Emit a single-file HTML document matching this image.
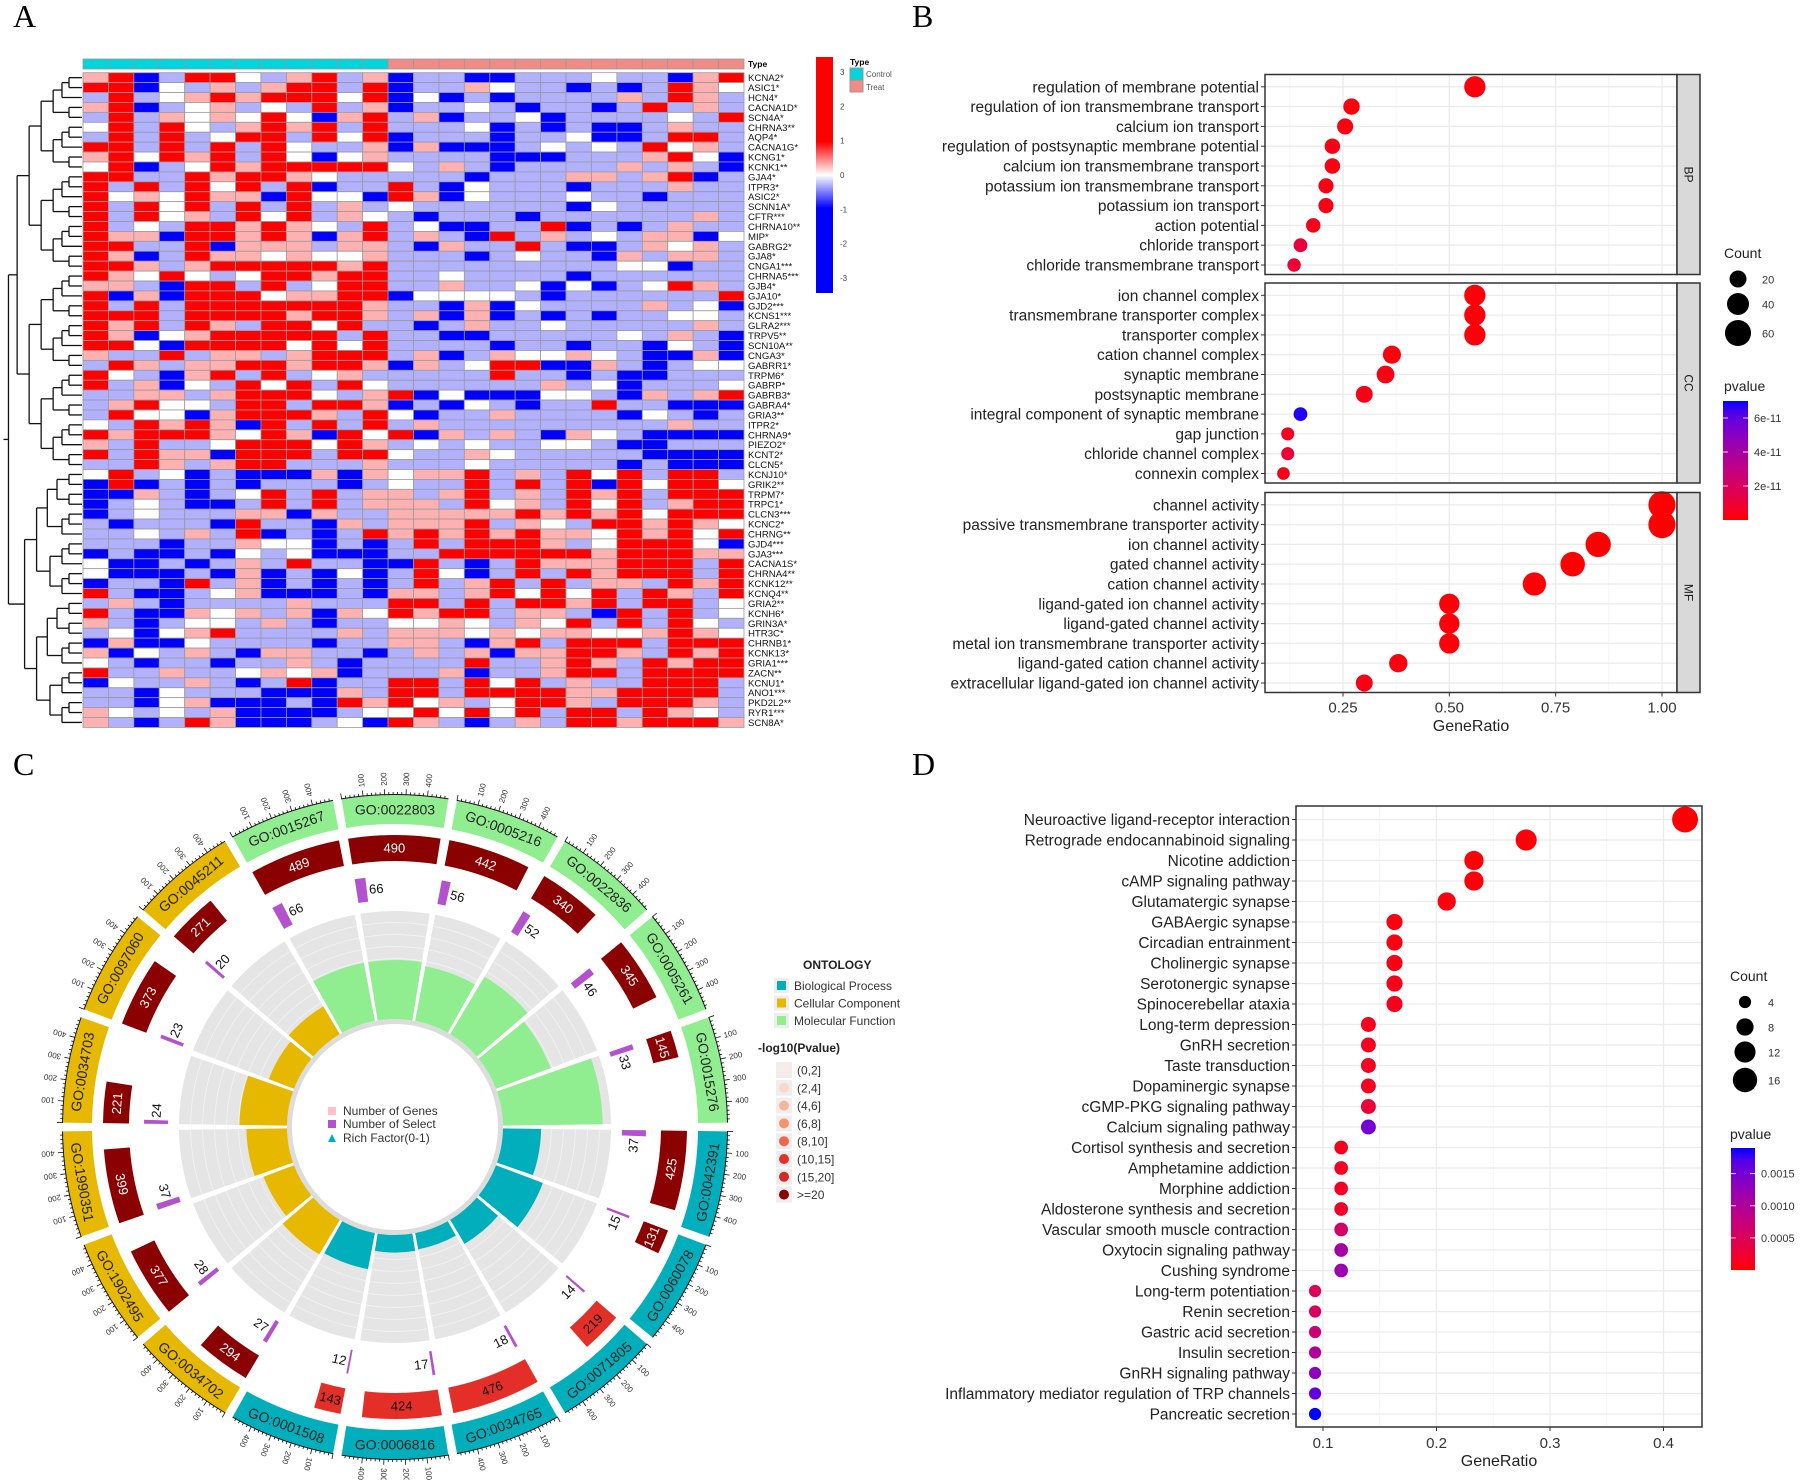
<!DOCTYPE html>
<html><head><meta charset="utf-8">
<style>
html,body{margin:0;padding:0;background:#fff;}
svg{display:block;font-family:"Liberation Sans",Arial,sans-serif;}
</style></head>
<body>
<svg id="fig" width="1800" height="1480" viewBox="0 0 1800 1480" xmlns="http://www.w3.org/2000/svg">
<rect x="0" y="0" width="1800" height="1480" fill="#fff"/>
<text x="13" y="27" font-family="Liberation Serif,serif" font-size="32">A</text>
<text x="912" y="27" font-family="Liberation Serif,serif" font-size="32">B</text>
<text x="13" y="775" font-family="Liberation Serif,serif" font-size="32">C</text>
<text x="912" y="775" font-family="Liberation Serif,serif" font-size="32">D</text>
<g id="pA"></g>
<g id="pB"></g>
<g id="pC"></g>
<g id="pD"></g>
</svg>
<script>
// ---------- Panel A data ----------
const heatGenes = ["KCNA2*","ASIC1*","HCN4*","CACNA1D*","SCN4A*","CHRNA3**","AQP4*","CACNA1G*","KCNG1*","KCNK1**","GJA4*","ITPR3*","ASIC2*","SCNN1A*","CFTR***","CHRNA10**","MIP*","GABRG2*","GJA8*","CNGA1***","CHRNA5***","GJB4*","GJA10*","GJD2***","KCNS1***","GLRA2***","TRPV5**","SCN10A**","CNGA3*","GABRR1*","TRPM6*","GABRP*","GABRB3*","GABRA4*","GRIA3**","ITPR2*","CHRNA9*","PIEZO2*","KCNT2*","CLCN5*","KCNJ10*","GRIK2**","TRPM7*","TRPC1*","CLCN3***","KCNC2*","CHRNG**","GJD4***","GJA3***","CACNA1S*","CHRNA4**","KCNK12**","KCNQ4**","GRIA2**","KCNH6*","GRIN3A*","HTR3C*","CHRNB1*","KCNK13*","GRIA1***","ZACN**","KCNU1*","ANO1***","PKD2L2**","RYR1***","SCN8A*"];
const heatTypes = ["Control","Control","Control","Control","Control","Control","Control","Control","Control","Control","Control","Control","Treat","Treat","Treat","Treat","Treat","Treat","Treat","Treat","Treat","Treat","Treat","Treat","Treat","Treat"];
const heatRows = [
"rRBbRRwbrRbrBbbBBbbbwbbBrR","RRBwbrbrRRbRBbbrwbbBbBbRrw","bRbwrRrRRRwRBwBbBbbbbrbRrb","rRBbwrbwbRbrBbbwbBbbBbRbrb",
"bRbrwrwRwBrRbrBbbwBbbbbwbR","wRbRwbrRrRbRbbbwBbBbBBbrbb","bRbRbwRRbRwRBbbbBbbwBBbRRb","RRbRbRbRwbbrBrBBBbwbwbRwrb",
"rRwRrRbRwBwrbbbbBBBbbbrRwB","wRBbwRrRRRRRwbrbBbbbbrbrbB","RRbbRrRRrwbbbbbBbbbrrbrRBb","RbRbRwRbRBbbRbBwbbbBbbbrbb",
"RwrwRrrBRwwBRrBwbbbwbbBbbb","RbRwRbRbRbrbwbbbbbbBwbbbbb","RbRwrbRwRbrwbBbbbBbbbbbbrb","RbwbRRrRrwbRbwBBbbRBbBbrbb",
"RrrBRRrRrBrRbrbBRbrbwbrrBw","RRbbRBrrrbrrbBrbbRbBBbrwrb","RrBbRrrwrwwrbbbBbwbbBrbrrb","RRrbrRRRRRrRbbbbbbbbbwwBbb",
"RrwRwbwRRrRRbbwbbbbBbbbbbb","rrbBRRbRbwRRbbrbbwBwBbwRrb","RBrBRRRwrrRRBwwwwbBbbbbbbR","RbRbRRRRRRRrbbBrBwbbbbrbwB",
"RRRbRRRRrRRrbrBrBbBbBbbwwb","RrRbRrbRRwRbbBbrbbwbbbbbrb","RrBwrRRRRRbRbbBBbbbbbwbrbB","RRwBRRRRwRwRbbbbBbbBbbBwbB",
"rbbRbrrbrRRRbrBbrwwrwbBBrB","bRrbrrRRrRRrBrbwRRBBrbBbww","RwbBrRbRbwrbbbbbRbbBbBBbbb","RbrBwbRwRbRwbbbbbbrbwBbbbw",
"bbrrbrRRRwbrRBwBBBwwbBrbrR","brRwwbRRbRRrBbBwbBbbRbbBBB","bRwwBrRRRrbRwBbbrbbbbBwbBb","wbRrRrBRbRbRbrbbbbbbbbbrbb",
"RrRRRrwRrBRwRBrbrbBrwbBBBB","rbRbbwRRRwRrbwbwbbwwbBBbbb","RbRrrBRRRbRRwbbrwbbbbbBBBB","bbRrbrRRbbbrbbbwbbbbbBbBBB",
"wRbwBbBBBrBrwrrRbrbRwRbRRb","BRBbBbBbbbBbwbbRbRbRBRwRRw","BBrbBbwRbRbrrbrRbrbRrRbRRR","BbwbBBbRbRbrrrbRwrbRwRbrRR",
"BbwbbbrrBrbbrrrrrRrRrRwRRR","bBbbbBRbbBrbrrrRbrwbRRrRrw","bbwbrbRBbBbRrRrRrRrrwRrRwR","bbbBbbrwwBbBbRbRRRrbwRRRwB",
"BbBBbBwbwBBBbbRRRRRRrRRRrr","wBBbBbrbRbbBBRbBbRrrrRRRbR","wBBBbBrBbBwBbRwBbRbRrRRRbR","BbbBRbrBbBbBbRbrRbRbrrbRrR",
"RbBBbwrBBBbBrrbrRwRwRbRrbR","brbBbbbbrbbbRRbRbRRrRbRRbw","RbBBrwrbrBrwRrRRbrrbBRbRbw","rbBbwwbrbBbbwwrwbrwRbRbRwb",
"bwBwrRbbbbrbrrrwrwrrwwrRrw","BrBBwbbbbBbbrrbBrRbRRRbRRR","rBwbrbBrrbbBbrbrBrrRRrbRrR","wbBbbBbbrbBbbbbRbbrRrbRrRR",
"RbbrbbwrwrBbbbrBbbrRRbRRRR","BwbbrbBbRBbbRRbRwRbrbbRRRb","bbBwbbbBBBrbRRbRRRRrrRRRRb","bbBwrBBBbBRrRwrbwRRrbRRRrb",
"rwbwbrBBBBbwwRwRwRbRRbRrwb","rbBbRrBBBbwBRrbBbrbRRrRRRr"
];
const heatLevels = {B:-2, b:-0.4, w:0, r:0.4, R:2};
const heatTicks = [3,2,1,0,-1,-2,-3];

// ---------- Panel B data ----------
const goBPLabels = ["regulation of membrane potential","regulation of ion transmembrane transport","calcium ion transport","regulation of postsynaptic membrane potential","calcium ion transmembrane transport","potassium ion transmembrane transport","potassium ion transport","action potential","chloride transport","chloride transmembrane transport"];
const goBPRatio = [0.56,0.27,0.255,0.225,0.225,0.21,0.21,0.18,0.15,0.135];
const goBPCount = [37,18,17,15,15,14,14,12,10,9];
const goBPP = [0.1e-11,0.2e-11,0.2e-11,0.3e-11,0.3e-11,0.3e-11,0.3e-11,0.4e-11,1.2e-11,1.0e-11];
const goCCLabels = ["ion channel complex","transmembrane transporter complex","transporter complex","cation channel complex","synaptic membrane","postsynaptic membrane","integral component of synaptic membrane","gap junction","chloride channel complex","connexin complex"];
const goCCRatio = [0.56,0.56,0.56,0.365,0.35,0.30,0.15,0.12,0.12,0.11];
const goCCCount = [37,37,37,24,23,20,10,8,8,7];
const goCCP = [0.1e-11,0.1e-11,0.1e-11,0.2e-11,0.3e-11,0.3e-11,6.9e-11,0.5e-11,1.0e-11,0.4e-11];
const goMFLabels = ["channel activity","passive transmembrane transporter activity","ion channel activity","gated channel activity","cation channel activity","ligand-gated ion channel activity","ligand-gated channel activity","metal ion transmembrane transporter activity","ligand-gated cation channel activity","extracellular ligand-gated ion channel activity"];
const goMFRatio = [1.0,1.0,0.85,0.79,0.70,0.50,0.50,0.50,0.38,0.30];
const goMFCount = [66,66,56,52,46,33,33,33,25,20];
const goMFP = [0.01e-11,0.01e-11,0.01e-11,0.02e-11,0.05e-11,0.1e-11,0.1e-11,0.1e-11,0.2e-11,0.3e-11];
const goFacets = ["BP","CC","MF"];
const goXTicks = [0.25,0.50,0.75,1.00];
const goCountLegend = [20,40,60];
const goPTicks = [2e-11,4e-11,6e-11];
const goPTickLabels = ["2e-11","4e-11","6e-11"];

// ---------- Panel C data ----------
const circIds = ["GO:0022803","GO:0005216","GO:0022836","GO:0005261","GO:0015276","GO:0042391","GO:0060078","GO:0071805","GO:0034765","GO:0006816","GO:0001508","GO:0034702","GO:1902495","GO:1990351","GO:0034703","GO:0097060","GO:0045211","GO:0015267"];
const circOnt = ["MF","MF","MF","MF","MF","BP","BP","BP","BP","BP","BP","CC","CC","CC","CC","CC","CC","MF"];
const circGenes = [490,442,340,345,145,425,131,219,476,424,143,294,377,399,221,373,271,489];
const circSelect = [66,56,52,46,33,37,15,14,18,17,12,27,28,37,24,23,20,66];
const circPLevel = [7,7,7,7,7,7,7,5,5,5,5,7,7,7,7,7,7,7];
const circAxisTicks = [100,200,300,400];
const circPLegend = ["(0,2]","(2,4]","(4,6]","(6,8]","(8,10]","(10,15]","(15,20]",">=20"];

// ---------- Panel D data ----------
const keggLabels = ["Neuroactive ligand-receptor interaction","Retrograde endocannabinoid signaling","Nicotine addiction","cAMP signaling pathway","Glutamatergic synapse","GABAergic synapse","Circadian entrainment","Cholinergic synapse","Serotonergic synapse","Spinocerebellar ataxia","Long-term depression","GnRH secretion","Taste transduction","Dopaminergic synapse","cGMP-PKG signaling pathway","Calcium signaling pathway","Cortisol synthesis and secretion","Amphetamine addiction","Morphine addiction","Aldosterone synthesis and secretion","Vascular smooth muscle contraction","Oxytocin signaling pathway","Cushing syndrome","Long-term potentiation","Renin secretion","Gastric acid secretion","Insulin secretion","GnRH signaling pathway","Inflammatory mediator regulation of TRP channels","Pancreatic secretion"];
const keggCount = [18,12,10,10,9,7,7,7,7,7,6,6,6,6,6,6,5,5,5,5,5,5,5,4,4,4,4,4,4,4];
const keggRatio = [0.419,0.279,0.233,0.233,0.209,0.163,0.163,0.163,0.163,0.163,0.140,0.140,0.140,0.140,0.140,0.140,0.116,0.116,0.116,0.116,0.116,0.116,0.116,0.093,0.093,0.093,0.093,0.093,0.093,0.093];
const keggP = [0.00001,0.00002,0.00003,0.00004,0.00005,0.00006,0.00007,0.00008,0.0001,0.00012,0.00013,0.00014,0.00015,0.00016,0.00028,0.0015,0.00012,0.00015,0.00017,0.0002,0.0006,0.0011,0.0012,0.0005,0.00055,0.0007,0.001,0.0013,0.0016,0.0019];
const keggXTicks = [0.1,0.2,0.3,0.4];
const keggCountLegend = [4,8,12,16];
const keggPTicks = [0.0005,0.0010,0.0015];
const keggPTickLabels = ["0.0005","0.0010","0.0015"];

// ---------- helpers ----------
const NS = "http://www.w3.org/2000/svg";
function add(parent, tag, attrs, name) {
  const el = document.createElementNS(NS, tag);
  for (const k in attrs) el.setAttribute(k, attrs[k]);
  
  
  parent.appendChild(el);
  return el;
}
function txt(parent, s, attrs, name) { const el = add(parent, 'text', attrs, name); el.textContent = s; return el; }
function lerp(a,b,t){return Math.round(a+(b-a)*t);}
function redBlue(t){ t=Math.max(0,Math.min(1,t)); return `rgb(${Math.round(255*Math.sqrt(1-t))},0,${Math.round(255*Math.pow(t,0.8))})`; }
function gradStops(lg){
  for(let i=0;i<=10;i++){ const t=1-i/10; add(lg,'stop',{offset:i/10,'stop-color':redBlue(t)},'gradient-stop'); }
}

// ---------- Panel A ----------
(function(){
  const g = document.getElementById('pA');
  const x0=83, x1=744, y0=72.7, rh=9.92, nC=heatTypes.length, cw=(x1-x0)/nC;
  function heatColor(v){ const t=Math.max(-1,Math.min(1,v/1.3));
    if(t>=0) return `rgb(255,${lerp(255,0,t)},${lerp(255,0,t)})`;
    return `rgb(${lerp(255,0,-t)},${lerp(255,0,-t)},255)`; }
  heatTypes.forEach((tp,j)=>{
    add(g,'rect',{x:x0+j*cw,y:59,width:cw,height:10,fill:tp==='Control'?'#00D5DB':'#F08C86',stroke:'#999','stroke-width':0.8},'type-annotation-cell');
  });
  txt(g,'Type',{x:x1+4,y:67,'font-size':8.5,'font-weight':'bold'},'type-annotation-label');
  heatRows.forEach((row,i)=>{
    for(let j=0;j<nC;j++){
      const v=heatLevels[row[j]];
      add(g,'rect',{x:x0+j*cw,y:y0+i*rh,width:cw,height:rh,fill:heatColor(v),stroke:'#9a9a9a','stroke-width':0.8},'heatmap-cell');
    }
    txt(g,heatGenes[i],{x:x1+4,y:y0+i*rh+rh/2+3.5,'font-size':9.6,fill:'#111'},'gene-label');
  });
  const leafX=x0-1;
  function node(a,b){
    if(a===b) return {y:y0+a*rh+rh/2,x:leafX};
    let m = (a===0&&b===heatRows.length-1)?39:Math.floor((a+b)/2);
    const L=node(a,m), R=node(m+1,b), n=b-a+1;
    const x=leafX-12*Math.log2(n)-1;
    add(g,'line',{x1:x,y1:L.y,x2:x,y2:R.y,stroke:'#111','stroke-width':1.3},'dendrogram-branch');
    add(g,'line',{x1:x,y1:L.y,x2:L.x,y2:L.y,stroke:'#111','stroke-width':1.3},'dendrogram-branch');
    add(g,'line',{x1:x,y1:R.y,x2:R.x,y2:R.y,stroke:'#111','stroke-width':1.3},'dendrogram-branch');
    return {x:x,y:(L.y+R.y)/2};
  }
  const root=node(0,heatRows.length-1);
  add(g,'line',{x1:root.x-5,y1:root.y,x2:root.x,y2:root.y,stroke:'#111','stroke-width':1.3},'dendrogram-root');
  const defs=add(g,'defs',{},'defs');
  const lg=add(defs,'linearGradient',{id:'hmGrad',x1:0,y1:0,x2:0,y2:1},'heat-gradient');
  [[0,'#ff0000'],[0.36,'#ff0000'],[0.5,'#ffffff'],[0.64,'#0000ff'],[1,'#0000ff']].forEach(s=>{
    add(lg,'stop',{offset:s[0],'stop-color':s[1]},'gradient-stop');});
  add(g,'rect',{x:816,y:57,width:17,height:236,fill:'url(#hmGrad)'},'heat-colorbar');
  heatTicks.forEach(v=>{ txt(g,String(v),{x:840,y:175-34.3*v+3,'font-size':8,fill:'#444'},'colorbar-tick-label'); });
  txt(g,'Type',{x:850,y:65,'font-size':8.5,'font-weight':'bold'},'type-legend-title');
  add(g,'rect',{x:850,y:68,width:13,height:12,fill:'#00D5DB',stroke:'#999'},'legend-control-swatch');
  add(g,'rect',{x:850,y:80,width:13,height:12,fill:'#F08C86',stroke:'#999'},'legend-treat-swatch');
  txt(g,'Control',{x:866,y:77,'font-size':8,fill:'#555'},'legend-control-label');
  txt(g,'Treat',{x:866,y:90,'font-size':8,fill:'#555'},'legend-treat-label');
})();

// ---------- dot plot generic ----------
function dotPanel(g, labels, ratios, counts, ps, top, height, yFirst, step, xs, left, right, rOf, pMax, facet){
  add(g,'rect',{x:left,y:top,width:right-left,height:height,fill:'#fff'},'plot-panel');
  for(let k=0;k<xs.ticks.length;k++){
    const v=xs.ticks[k];
    add(g,'line',{x1:xs.f(v),y1:top,x2:xs.f(v),y2:top+height,stroke:'#ebebeb','stroke-width':1.3},'grid-major-x');
    const vm=v-xs.step/2; const xm=xs.f(vm);
    if(xm>left) add(g,'line',{x1:xm,y1:top,x2:xm,y2:top+height,stroke:'#f4f4f4','stroke-width':0.8},'grid-minor-x');
  }
  const lastMinor=xs.f(xs.ticks[xs.ticks.length-1]+xs.step/2);
  if(lastMinor<right) add(g,'line',{x1:lastMinor,y1:top,x2:lastMinor,y2:top+height,stroke:'#f4f4f4','stroke-width':0.8},'grid-minor-x');
  labels.forEach((lab,i)=>{
    const y=yFirst+i*step;
    add(g,'line',{x1:left,y1:y,x2:right,y2:y,stroke:'#ebebeb','stroke-width':1.3},'grid-major-y');
    add(g,'line',{x1:left-4,y1:y,x2:left,y2:y,stroke:'#333','stroke-width':1},'y-tick');
    txt(g,lab,{x:left-6,y:y+5.5,'font-size':15.5,'text-anchor':'end',fill:'#222'},'y-tick-label');
  });
  labels.forEach((lab,i)=>{
    add(g,'circle',{cx:xs.f(ratios[i]),cy:yFirst+i*step,r:rOf(counts[i]),fill:redBlue(ps[i]/pMax)},'dot-'+facet);
  });
  add(g,'rect',{x:left,y:top,width:right-left,height:height,fill:'none',stroke:'#333','stroke-width':1.5},'panel-border');
}

// ---------- Panel B ----------
(function(){
  const g=document.getElementById('pB');
  const left=1265,right=1677;
  const xs={f:v=>1343+(v-0.25)*425.3,ticks:goXTicks,step:0.25};
  const rOf=c=>Math.sqrt(23+2.45*c);
  const pMax=7.0e-11;
  const tops=[74.5,283,492.5], h=200;
  const sets=[[goBPLabels,goBPRatio,goBPCount,goBPP],[goCCLabels,goCCRatio,goCCCount,goCCP],[goMFLabels,goMFRatio,goMFCount,goMFP]];
  sets.forEach((s,k)=>{
    dotPanel(g,s[0],s[1],s[2],s[3],tops[k],h,tops[k]+12.3,19.8,xs,left,right,rOf,pMax,goFacets[k]);
    add(g,'rect',{x:right,y:tops[k],width:23,height:h,fill:'#d9d9d9',stroke:'#333','stroke-width':1.5},'facet-strip');
    txt(g,goFacets[k],{x:right+11.5,y:tops[k]+h/2,'font-size':12,'text-anchor':'middle',fill:'#1a1a1a',transform:`rotate(90 ${right+11.5} ${tops[k]+h/2})`,dy:4},'facet-strip-label');
  });
  const bottom=tops[2]+h;
  goXTicks.forEach(v=>{
    add(g,'line',{x1:xs.f(v),y1:bottom,x2:xs.f(v),y2:bottom+4,stroke:'#333'},'x-tick');
    txt(g,v.toFixed(2),{x:xs.f(v),y:bottom+20,'font-size':15,'text-anchor':'middle',fill:'#333'},'x-tick-label');
  });
  txt(g,'GeneRatio',{x:(left+right)/2,y:731,'font-size':16,'text-anchor':'middle',fill:'#222'},'x-axis-title');
  txt(g,'Count',{x:1724,y:258,'font-size':14,fill:'#222'},'count-legend-title');
  const ly=[279,304,333];
  goCountLegend.forEach((c,i)=>{
    add(g,'circle',{cx:1738,cy:ly[i],r:rOf(c),fill:'#000'},'count-legend-dot');
    txt(g,String(c),{x:1762,y:ly[i]+4.5,'font-size':11,fill:'#333'},'count-legend-label');
  });
  txt(g,'pvalue',{x:1724,y:391,'font-size':14,fill:'#222'},'pvalue-legend-title');
  const defs=add(g,'defs',{},'defs');
  const lg=add(defs,'linearGradient',{id:'bGrad',x1:0,y1:0,x2:0,y2:1},'pvalue-gradient');
  gradStops(lg);
  const cbTop=401, cbBot=520;
  add(g,'rect',{x:1723,y:cbTop,width:25,height:cbBot-cbTop,fill:'url(#bGrad)'},'pvalue-colorbar');
  goPTicks.forEach((p,i)=>{
    const y=cbBot-(p/pMax)*(cbBot-cbTop);
    add(g,'line',{x1:1723,y1:y,x2:1728,y2:y,stroke:'#fff','stroke-width':0.8},'colorbar-tick');
    add(g,'line',{x1:1743,y1:y,x2:1748,y2:y,stroke:'#fff','stroke-width':0.8},'colorbar-tick');
    txt(g,goPTickLabels[i],{x:1754,y:y+4,'font-size':11,fill:'#333'},'colorbar-tick-label');
  });
})();

// ---------- Panel C ----------
(function(){
  const g=document.getElementById('pC');
  const cx=395, cy=1127;
  const ontColor={MF:'#90EE90',BP:'#00AFBB',CC:'#E7B800'};
  const pCols=['#FCEBE4','#FBD8C8','#F9B49A','#F7926F','#F2674A','#E32F27','#D42A2A','#8B0000'];
  const dpu=18.6/500;
  function P(r,a){const t=a*Math.PI/180;return [cx+r*Math.sin(t),cy-r*Math.cos(t)];}
  function arc(r0,r1,a0,a1){
    const L=(a1-a0)>180?1:0, p1=P(r1,a0),p2=P(r1,a1),p3=P(r0,a1),p4=P(r0,a0);
    return `M${p1[0]},${p1[1]} A${r1},${r1} 0 ${L} 1 ${p2[0]},${p2[1]} L${p3[0]},${p3[1]} A${r0},${r0} 0 ${L} 0 ${p4[0]},${p4[1]} Z`;
  }
  function rot(a){const n=((a%360)+360)%360;return (n>90&&n<270)?n-180:n;}
  add(g,'circle',{cx:cx,cy:cy,r:108,fill:'#dcdcdc'},'inner-ring');
  add(g,'circle',{cx:cx,cy:cy,r:103,fill:'#fff'},'inner-circle');
  circIds.forEach((id,k)=>{
    const a0=20*k-10+0.75, a1=20*k+10-0.75, am=20*k;
    add(g,'path',{d:arc(108,216,a0,a1),fill:'#e5e5e5'},'rich-factor-track');
    for(let r=120;r<216;r+=12) add(g,'path',{d:arc(r,r+0.8,a0,a1),fill:'#f3f3f3'},'track-gridline');
    const rf=circSelect[k]/circGenes[k];
    add(g,'path',{d:arc(108,108+rf*438,a0,a1),fill:ontColor[circOnt[k]]},'rich-factor-bar');
    add(g,'path',{d:arc(303,332,a0,a1),fill:ontColor[circOnt[k]]},'go-term-band');
    const pl=P(317.5,am);
    txt(g,id,{x:pl[0],y:pl[1],'font-size':14,'text-anchor':'middle','dominant-baseline':'central',fill:'#222',transform:`rotate(${rot(am)} ${pl[0]} ${pl[1]})`},'go-term-label');
    for(let v=0;v<=500;v+=20){
      const a=a0+v*dpu; if(a>a1) break;
      const p1=P(332,a),p2=P(v%100===0?338:335,a);
      add(g,'line',{x1:p1[0],y1:p1[1],x2:p2[0],y2:p2[1],stroke:'#111','stroke-width':0.8},'axis-tick');
    }
    add(g,'path',{d:arc(332,333,a0,a1),fill:'#111'},'axis-line');
    circAxisTicks.forEach(v=>{
      const a=a0+v*dpu, p=P(348,a);
      txt(g,String(v),{x:p[0],y:p[1],'font-size':8,'text-anchor':'middle','dominant-baseline':'central',fill:'#333',transform:`rotate(${a-90} ${p[0]} ${p[1]})`},'axis-tick-label');
    });
    const ge=a0+circGenes[k]*dpu;
    add(g,'path',{d:arc(266,292,a0,ge),fill:pCols[circPLevel[k]]},'gene-count-bar');
    const pg=P(279,(a0+ge)/2);
    txt(g,String(circGenes[k]),{x:pg[0],y:pg[1],'font-size':13,'text-anchor':'middle','dominant-baseline':'central',fill:circPLevel[k]===7?'#fff':'#111',transform:`rotate(${rot((a0+ge)/2)} ${pg[0]} ${pg[1]})`},'gene-count-label');
    const se=a0+circSelect[k]*dpu;
    add(g,'path',{d:arc(227,251,a0,se),fill:'#B452CD'},'select-count-bar');
    const ps=P(239,se+2.3);
    txt(g,String(circSelect[k]),{x:ps[0],y:ps[1],'font-size':13,'text-anchor':'middle','dominant-baseline':'central',fill:'#111',transform:`rotate(${rot(se+2.3)} ${ps[0]} ${ps[1]})`},'select-count-label');
  });
  add(g,'rect',{x:328,y:1107,width:8,height:8,fill:'#FFC0CB'},'legend-genes-swatch');
  add(g,'rect',{x:328,y:1120,width:8,height:8,fill:'#B452CD'},'legend-select-swatch');
  add(g,'path',{d:'M328,1142 L332,1134 L336,1142 Z',fill:'#00AFBB'},'legend-rich-swatch');
  txt(g,'Number of Genes',{x:343,y:1115,'font-size':12,fill:'#333'},'legend-genes-label');
  txt(g,'Number of Select',{x:343,y:1128,'font-size':12,fill:'#333'},'legend-select-label');
  txt(g,'Rich Factor(0-1)',{x:343,y:1142,'font-size':12,fill:'#333'},'legend-rich-label');
  txt(g,'ONTOLOGY',{x:803,y:969,'font-size':12,'font-weight':'bold',fill:'#222'},'ontology-legend-title');
  [['Biological Process','#00AFBB'],['Cellular Component','#E7B800'],['Molecular Function','#90EE90']].forEach((it,i)=>{
    const y=986+i*17.5;
    add(g,'rect',{x:774,y:y-8,width:15,height:15,fill:'#eee'},'legend-key-bg');
    add(g,'rect',{x:777,y:y-5,width:9,height:9,fill:it[1]},'ontology-legend-swatch');
    txt(g,it[0],{x:794,y:y+4,'font-size':12,fill:'#333'},'ontology-legend-label');
  });
  txt(g,'-log10(Pvalue)',{x:758,y:1052,'font-size':12,'font-weight':'bold',fill:'#222'},'pvalue-legend-title');
  circPLegend.forEach((s,i)=>{
    const y=1070+i*17.8;
    add(g,'rect',{x:776,y:y-8,width:16,height:16,fill:'#eee'},'legend-key-bg');
    add(g,'circle',{cx:784,cy:y,r:5,fill:pCols[i]},'pvalue-legend-dot');
    txt(g,s,{x:797,y:y+4.5,'font-size':12,fill:'#333'},'pvalue-legend-label');
  });
})();

// ---------- Panel D ----------
(function(){
  const g=document.getElementById('pD');
  const left=1296,right=1702,top=806,bottom=1427;
  const xs={f:v=>1323+(v-0.1)*1135,ticks:keggXTicks,step:0.1};
  const rOf=c=>3.05*Math.sqrt(c);
  const pMax=0.0019;
  dotPanel(g,keggLabels,keggRatio,keggCount,keggP,top,bottom-top,819.5,20.5,xs,left,right,rOf,pMax,'kegg');
  keggXTicks.forEach(v=>{
    add(g,'line',{x1:xs.f(v),y1:bottom,x2:xs.f(v),y2:bottom+4,stroke:'#333'},'x-tick');
    txt(g,v.toFixed(1),{x:xs.f(v),y:bottom+21,'font-size':15,'text-anchor':'middle',fill:'#333'},'x-tick-label');
  });
  txt(g,'GeneRatio',{x:(left+right)/2,y:1466,'font-size':16,'text-anchor':'middle',fill:'#222'},'x-axis-title');
  txt(g,'Count',{x:1730,y:981,'font-size':14,fill:'#222'},'count-legend-title');
  const ly=[1002,1027,1052,1080];
  keggCountLegend.forEach((c,i)=>{
    add(g,'circle',{cx:1745,cy:ly[i],r:rOf(c),fill:'#000'},'count-legend-dot');
    txt(g,String(c),{x:1768,y:ly[i]+4.5,'font-size':11,fill:'#333'},'count-legend-label');
  });
  txt(g,'pvalue',{x:1730,y:1139,'font-size':14,fill:'#222'},'pvalue-legend-title');
  const defs=add(g,'defs',{},'defs');
  const lg=add(defs,'linearGradient',{id:'dGrad',x1:0,y1:0,x2:0,y2:1},'pvalue-gradient');
  gradStops(lg);
  const cbTop=1148, cbBot=1270;
  add(g,'rect',{x:1731,y:cbTop,width:24,height:cbBot-cbTop,fill:'url(#dGrad)'},'pvalue-colorbar');
  keggPTicks.forEach((p,i)=>{
    const y=cbBot-(p/pMax)*(cbBot-cbTop);
    add(g,'line',{x1:1731,y1:y,x2:1736,y2:y,stroke:'#fff','stroke-width':0.8},'colorbar-tick');
    add(g,'line',{x1:1750,y1:y,x2:1755,y2:y,stroke:'#fff','stroke-width':0.8},'colorbar-tick');
    txt(g,keggPTickLabels[i],{x:1761,y:y+4,'font-size':11,fill:'#333'},'colorbar-tick-label');
  });
})();
</script>
</body></html>
